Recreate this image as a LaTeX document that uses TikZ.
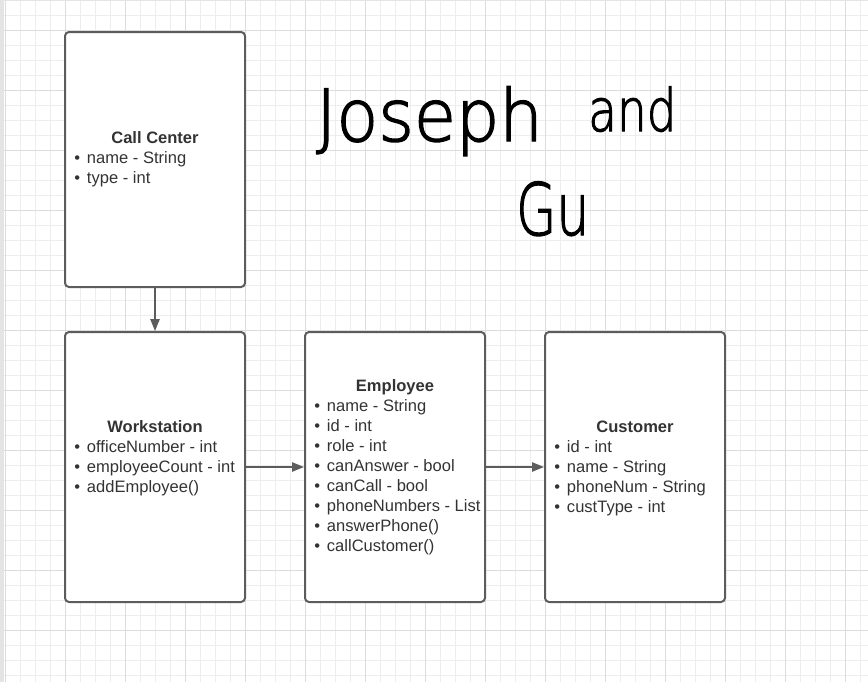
\documentclass[tikz,border=0pt]{standalone}
\usepackage{fontspec}
\setmainfont{Liberation Sans}
\newfontfamily\hand[FakeBold=2]{DejaVu Sans ExtraLight}
\usetikzlibrary{arrows.meta}
\definecolor{gridminor}{HTML}{EDEDED}
\definecolor{gridmajor}{HTML}{DCDCDC}
\definecolor{boxline}{HTML}{5C5C5C}
\definecolor{txt}{HTML}{333333}
\definecolor{strip}{HTML}{E4E4E4}
\tikzset{
  umlbox/.style={draw=boxline, line width=1.5pt, rounded corners=3pt, fill=white,
    minimum width=135pt, inner sep=0pt},
  ttl/.style={anchor=base, inner sep=0pt, text=txt, font=\fontsize{12.4pt}{14pt}\selectfont\bfseries},
  itm/.style={anchor=base west, inner sep=0pt, text=txt, font=\fontsize{12.4pt}{14pt}\selectfont},
  conn/.style={draw=boxline, line width=1.1pt, -{Triangle[length=9pt,width=7pt]}},
  handw/.style={anchor=base west, inner sep=0pt, text=black, font=\hand\fontsize{54pt}{60pt}\selectfont}
}
\newcommand{\bul}{\textbullet\hspace{0.42em}}
\begin{document}
\begin{tikzpicture}[x=0.75pt,y=-0.75pt]
\useasboundingbox (0,0) rectangle (868,682);
\fill[white] (0,0) rectangle (868,682);
% grid
\foreach \x in {5,20,...,868} \draw[gridminor, line width=0.75pt] (\x,0) -- (\x,682);
\foreach \y in {0,15,...,682} \draw[gridminor, line width=0.75pt] (0,\y) -- (868,\y);
\foreach \x in {5,65,...,868} \draw[gridmajor, line width=0.75pt] (\x,0) -- (\x,682);
\foreach \y in {30,90,...,682} \draw[gridmajor, line width=0.75pt] (0,\y) -- (868,\y);
\fill[strip] (0,0) rectangle (4,682);
\fill[strip] (0,0) rectangle (868,1);

% boxes
\node[umlbox, minimum height=191.25pt] (cc) at (155,159.5) {};
\node[umlbox, minimum height=202.5pt] (ws) at (155,467) {};
\node[umlbox, minimum height=202.5pt] (emp) at (395,467) {};
\node[umlbox, minimum height=202.5pt] (cus) at (635,467) {};

% connectors
\draw[conn] (cc.south) -- (ws.north);
\draw[conn] (ws.east) -- (emp.west);
\draw[conn] (emp.east) -- (cus.west);

% Call Center
\node[ttl] (cct) at (155,143) {Call Center};
\node[itm] (cc1) at (74,163) {\bul name - String};
\node[itm] (cc2) at (74,183) {\bul type - int};

% Workstation
\node[ttl] (wst) at (155,432) {Workstation};
\node[itm] (ws1) at (74,452) {\bul officeNumber - int};
\node[itm] (ws2) at (74,472) {\bul employeeCount - int};
\node[itm] (ws3) at (74,492) {\bul addEmployee()};

% Employee
\node[ttl] (empt) at (395,391) {Employee};
\node[itm] (e1) at (314,411) {\bul name - String};
\node[itm] (e2) at (314,431) {\bul id - int};
\node[itm] (e3) at (314,451) {\bul role - int};
\node[itm] (e4) at (314,471) {\bul canAnswer - bool};
\node[itm] (e5) at (314,491) {\bul canCall - bool};
\node[itm] (e6) at (314,511) {\bul phoneNumbers - List};
\node[itm] (e7) at (314,531) {\bul answerPhone()};
\node[itm] (e8) at (314,551) {\bul callCustomer()};

% Customer
\node[ttl] (cust) at (635,432) {Customer};
\node[itm] (c1) at (554,452) {\bul id - int};
\node[itm] (c2) at (554,472) {\bul name - String};
\node[itm] (c3) at (554,492) {\bul phoneNum - String};
\node[itm] (c4) at (554,512) {\bul custType - int};

% handwriting
\node[handw, xscale=0.95] (hw1) at (316,141) {Joseph};
\node[handw, xscale=0.8, font=\hand\fontsize{44pt}{50pt}\selectfont] (hw2) at (588,131) {and};
\node[handw, xscale=0.72] (hw3) at (516,235) {Gu};
\end{tikzpicture}
\end{document}
